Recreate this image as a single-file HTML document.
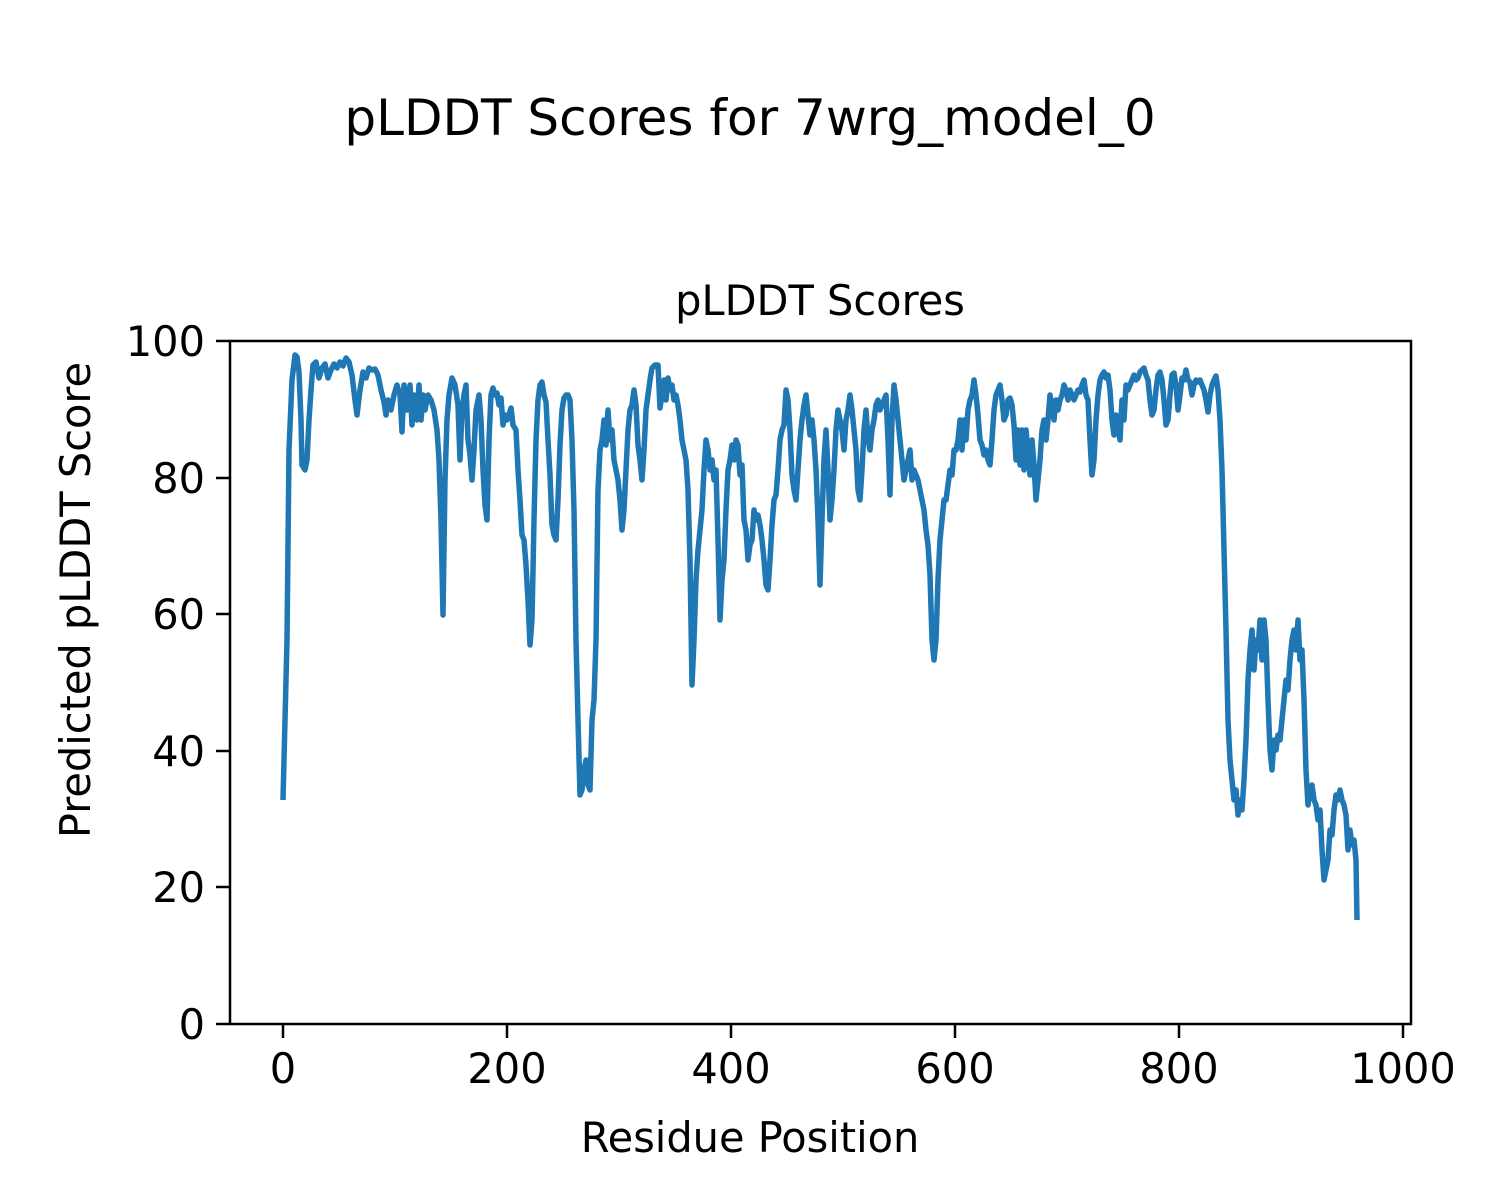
<!DOCTYPE html>
<html><head><meta charset="utf-8"><style>
html,body{margin:0;padding:0;background:#fff;}
svg{display:block;}
text{font-family:"DejaVu Sans","Liberation Sans",sans-serif;fill:#000;}
</style></head><body>
<svg width="1500" height="1200" viewBox="0 0 1500 1200" xmlns="http://www.w3.org/2000/svg">
<rect width="1500" height="1200" fill="#fff"/>
<text x="750" y="135" font-size="50" text-anchor="middle">pLDDT Scores for 7wrg_model_0</text>
<text x="820" y="315" font-size="41.5" text-anchor="middle">pLDDT Scores</text>
<polyline fill="none" stroke="#1f77b4" stroke-width="5.5" stroke-linejoin="round" points="283,800 287,640 289,450 292,380 295,355 297,357 299,372 301,420 302,465 305,470 307,460 309,420 311,390 313,365 316,362 319,378 322,368 325,364 328,378 331,370 334,364 337,368 340,362 343,366 346,358 349,362 352,375 355,400 357,415 360,390 363,372 366,378 369,368 372,370 375,369 378,375 381,390 384,402 386,415 388,400 391,410 394,395 397,385 400,395 402,432 404,385 407,410 410,385 412,425 414,395 417,420 419,385 421,420 423,395 425,410 428,395 431,400 434,410 437,430 439,460 441,520 443,615 445,480 447,420 449,395 452,378 455,385 458,405 460,460 462,410 464,395 466,385 468,440 470,455 472,480 474,450 476,410 479,395 481,420 483,470 485,505 487,520 489,440 491,395 493,388 495,395 497,393 499,405 501,398 503,425 505,415 507,420 509,415 511,408 513,425 516,430 518,470 520,500 522,535 524,540 526,565 528,600 530,645 532,620 534,520 536,440 538,400 540,385 542,382 544,395 546,402 548,440 550,475 552,525 554,535 556,540 558,500 560,445 562,410 564,398 566,395 568,395 570,400 572,440 574,510 576,640 578,720 580,795 582,790 584,770 586,760 588,785 590,790 592,720 594,700 596,640 598,490 600,450 602,440 604,420 606,445 608,410 610,440 612,430 614,460 616,470 618,480 620,500 622,530 624,510 626,470 628,430 630,410 632,405 634,390 636,405 638,445 640,460 642,480 644,450 646,410 648,395 650,380 652,368 655,365 658,365 660,408 662,395 664,380 666,400 668,378 670,390 672,385 674,400 676,395 678,405 680,420 682,440 684,450 686,460 688,490 690,560 692,685 694,640 696,580 698,550 700,530 702,510 704,470 706,440 708,450 710,470 712,460 714,480 716,470 718,540 720,620 722,580 724,560 726,510 728,470 730,460 732,445 734,460 736,440 738,445 740,475 742,465 744,520 746,530 748,560 750,545 752,540 754,510 756,520 758,515 760,525 762,540 764,560 766,585 768,590 770,560 772,525 774,500 776,495 778,470 780,440 782,430 784,425 786,390 788,400 790,430 792,475 794,490 796,500 798,470 800,440 802,420 804,405 806,395 808,415 810,435 812,420 814,440 816,470 818,520 820,585 822,520 824,460 826,430 828,470 830,520 832,500 834,470 836,430 838,410 840,420 842,430 844,450 846,420 848,410 850,395 852,410 854,430 856,450 858,490 860,500 862,470 864,430 866,410 868,440 870,450 872,430 874,420 876,405 878,400 880,410 882,405 884,400 886,395 888,440 890,495 892,420 894,385 896,400 898,420 900,440 902,460 904,480 906,470 908,460 910,450 912,480 914,470 916,475 918,480 920,490 922,500 924,510 926,530 928,545 930,575 932,640 934,660 936,640 938,580 940,540 942,520 944,500 946,500 948,485 950,470 952,475 954,450 956,450 958,440 960,420 962,450 964,420 966,440 968,410 970,400 972,395 974,380 976,395 978,415 980,440 982,445 984,455 986,450 988,460 990,465 992,440 994,410 996,395 998,390 1000,385 1002,400 1004,420 1006,415 1008,400 1010,398 1012,405 1014,425 1016,460 1018,430 1020,465 1022,430 1024,470 1026,430 1028,450 1030,475 1032,440 1034,465 1036,500 1038,480 1040,460 1042,430 1044,420 1046,440 1048,420 1050,395 1052,405 1054,420 1056,400 1058,410 1060,400 1062,395 1064,385 1066,390 1068,400 1070,390 1072,395 1074,400 1076,395 1078,390 1080,392 1082,385 1084,380 1086,395 1088,400 1090,440 1092,475 1094,460 1096,420 1098,395 1100,380 1102,375 1104,372 1106,378 1108,375 1110,390 1112,420 1114,435 1116,415 1118,430 1120,440 1122,400 1124,420 1126,385 1128,390 1130,385 1132,380 1134,375 1136,380 1138,378 1140,372 1142,370 1144,368 1146,375 1148,380 1150,400 1152,415 1154,410 1156,390 1158,375 1160,372 1162,380 1164,400 1166,425 1168,420 1170,395 1172,375 1174,373 1176,385 1178,410 1180,395 1182,378 1184,380 1186,370 1188,380 1190,382 1192,395 1194,385 1196,380 1198,382 1200,380 1202,385 1204,390 1206,400 1208,412 1210,395 1212,385 1214,380 1216,376 1218,390 1220,420 1222,470 1224,550 1226,630 1228,720 1230,760 1232,780 1234,800 1236,790 1238,815 1240,800 1242,810 1244,780 1246,740 1248,680 1250,650 1252,630 1254,670 1256,640 1258,650 1260,620 1262,660 1264,620 1266,640 1268,700 1270,750 1272,770 1274,740 1276,750 1278,735 1280,740 1282,720 1284,700 1286,680 1288,690 1290,660 1292,640 1294,630 1296,650 1298,620 1300,660 1302,650 1304,700 1306,770 1308,805 1310,790 1312,785 1314,800 1316,805 1318,820 1320,810 1322,850 1324,880 1326,870 1328,860 1330,830 1332,835 1334,810 1336,795 1338,800 1340,790 1342,800 1344,805 1346,815 1348,850 1350,830 1352,845 1354,840 1356,860 1357,920"/>
<rect x="230" y="341" width="1181" height="683" fill="none" stroke="#000" stroke-width="2.5"/>
<g stroke="#000" stroke-width="2.5">
<line x1="283" y1="1024" x2="283" y2="1038"/><line x1="507" y1="1024" x2="507" y2="1038"/><line x1="731" y1="1024" x2="731" y2="1038"/><line x1="955" y1="1024" x2="955" y2="1038"/><line x1="1179" y1="1024" x2="1179" y2="1038"/><line x1="1403" y1="1024" x2="1403" y2="1038"/>
<line x1="216" y1="341" x2="230" y2="341"/><line x1="216" y1="478" x2="230" y2="478"/><line x1="216" y1="614" x2="230" y2="614"/><line x1="216" y1="751" x2="230" y2="751"/><line x1="216" y1="887" x2="230" y2="887"/><line x1="216" y1="1024" x2="230" y2="1024"/>
</g>
<g font-size="41.5" text-anchor="middle">
<text x="283" y="1083">0</text><text x="507" y="1083">200</text><text x="731" y="1083">400</text><text x="955" y="1083">600</text><text x="1179" y="1083">800</text><text x="1403" y="1083">1000</text>
</g>
<g font-size="41.5" text-anchor="end">
<text x="205" y="356">100</text><text x="205" y="493">80</text><text x="205" y="629">60</text><text x="205" y="766">40</text><text x="205" y="902">20</text><text x="205" y="1039">0</text>
</g>
<text x="750" y="1152" font-size="41.5" text-anchor="middle">Residue Position</text>
<text transform="translate(90,600) rotate(-90)" font-size="41.5" text-anchor="middle">Predicted pLDDT Score</text>
</svg>
</body></html>
